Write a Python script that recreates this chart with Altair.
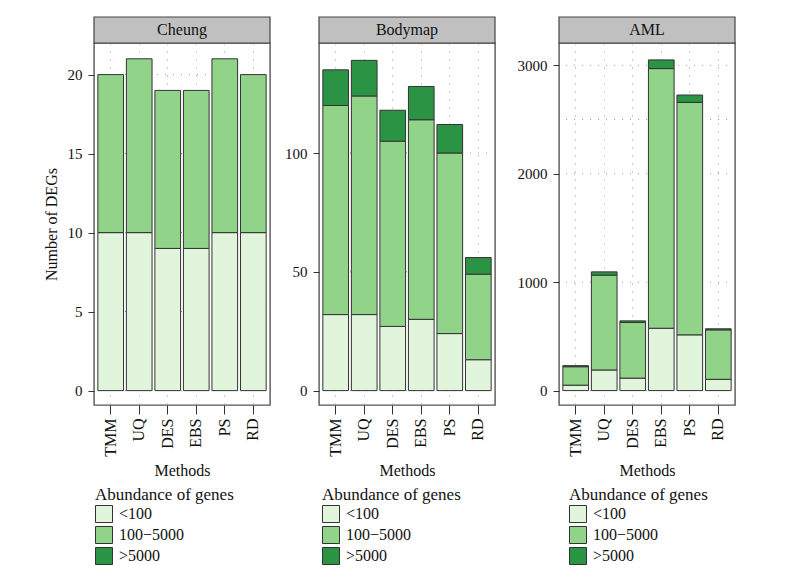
import altair as alt
import pandas as pd

methods = ["TMM", "UQ", "DES", "EBS", "PS", "RD"]
groups = ["<100", "100\u22125000", ">5000"]
colors = ["#E1F4DC", "#91D489", "#2B9444"]

panel_names = ["Cheung", "Bodymap", "AML"]

cheung_low = [10, 10, 9, 9, 10, 10]
cheung_mid = [10, 11, 10, 10, 11, 10]
cheung_high = [0, 0, 0, 0, 0, 0]

bodymap_low = [32, 32, 27, 30, 24, 13]
bodymap_mid = [88, 92, 78, 84, 76, 36]
bodymap_high = [15, 15, 13, 14, 12, 7]

aml_low = [50, 190, 115, 575, 514, 104]
aml_mid = [170, 875, 513, 2395, 2144, 456]
aml_high = [10, 30, 15, 80, 68, 10]

cheung_ticks = [0, 5, 10, 15, 20]
bodymap_ticks = [0, 50, 100]
aml_ticks = [0, 1000, 2000, 3000]

cheung_grid = [0, 5, 10, 15, 20]
bodymap_grid = [0, 50, 100]
aml_grid = [0, 1000, 2000, 2500, 3000]

cheung_domain = [-0.91, 22.0]
bodymap_domain = [-6.06, 146.3]
aml_domain = [-133, 3206]

FONT = "Liberation Serif"
W = 176
H = 362


def panel(name, low, mid, high, ticks, grid, domain, ytitle, ext, legend_x):
    rows = []
    for i, m in enumerate(methods):
        for gi, (g, vals) in enumerate(zip(groups, [low, mid, high])):
            if vals[i] > 0:
                rows.append({"method": m, "group": g, "gi": gi, "value": vals[i]})
    df = pd.DataFrame(rows)

    yaxis_kwargs = dict(
        values=ticks, format="d", grid=False, domain=False, tickSize=6,
        tickColor="#333333", labelFont=FONT, labelFontSize=15,
        labelColor="#111111", labelPadding=6,
        titleFont=FONT, titleFontSize=16, titleFontWeight="normal",
        titleColor="#111111", titlePadding=8,
    )
    if ytitle:
        yaxis_kwargs["title"] = ytitle
    else:
        yaxis_kwargs["title"] = None
        yaxis_kwargs["minExtent"] = ext
        yaxis_kwargs["maxExtent"] = ext
    yaxis = alt.Axis(**yaxis_kwargs)
    yscale = alt.Scale(domain=domain, nice=False, zero=False)

    rules = alt.Chart(pd.DataFrame({"value": grid})).mark_rule(
        color="#9a9a9a", strokeDash=[1, 7], strokeWidth=1
    ).encode(y=alt.Y("value:Q", scale=yscale, axis=yaxis))

    bars = alt.Chart(df).mark_bar(stroke="#333333", strokeWidth=1).encode(
        x=alt.X(
            "method:N", sort=methods,
            scale=alt.Scale(paddingInner=0.1, paddingOuter=0.135),
            axis=alt.Axis(
                title="Methods", labelAngle=270, grid=True, gridDash=[1, 7],
                gridColor="#9a9a9a", bandPosition=0.5, domain=False,
                tickSize=9, tickColor="#333333", labelFont=FONT, labelFontSize=16,
                labelColor="#111111", labelPadding=4, titleFont=FONT,
                titleFontSize=16, titleFontWeight="normal", titleColor="#111111",
                titlePadding=6,
            ),
        ),
        y=alt.Y("value:Q", stack="zero", scale=yscale, axis=yaxis),
        color=alt.Color(
            "group:N", sort=groups,
            scale=alt.Scale(domain=groups, range=colors),
            legend=alt.Legend(
                title="Abundance of genes", orient="none", legendX=legend_x,
                legendY=444, direction="vertical", symbolType="square",
                symbolSize=289, symbolStrokeColor="#333333", symbolStrokeWidth=1,
                titleFont=FONT, titleFontSize=17, titleFontWeight="normal",
                titleColor="#111111", titlePadding=1, labelFont=FONT,
                labelFontSize=16, labelColor="#111111", labelOffset=6,
                rowPadding=-1, padding=0,
            ),
        ),
        order=alt.Order("gi:Q"),
    )

    sdf = pd.DataFrame({"name": [name]})
    strip = alt.Chart(sdf).mark_rect(
        fill="#C0C0C0", stroke="#444444", strokeWidth=1.2
    ).encode(
        x=alt.value(0), x2=alt.value(W), y=alt.value(-26), y2=alt.value(0)
    )
    strip_text = alt.Chart(sdf).mark_text(
        font=FONT, fontSize=16, color="#111111", baseline="middle", align="center"
    ).encode(text="name:N", x=alt.value(W / 2), y=alt.value(-13))

    return alt.layer(rules, bars, strip, strip_text).properties(width=W, height=H)


p1 = panel("Cheung", cheung_low, cheung_mid, cheung_high, cheung_ticks,
           cheung_grid, cheung_domain, "Number of DEGs", 0, 1)
p2 = panel("Bodymap", bodymap_low, bodymap_mid, bodymap_high, bodymap_ticks,
           bodymap_grid, bodymap_domain, "", 46, 3)
p3 = panel("AML", aml_low, aml_mid, aml_high, aml_ticks,
           aml_grid, aml_domain, "", 61, 10)

chart = alt.hconcat(p1, p2, p3, spacing=0).resolve_scale(
    color="independent", y="independent"
).resolve_legend(color="independent").properties(
    padding={"left": 34, "top": 7, "right": 5, "bottom": 5},
    background="white",
).configure_view(stroke="#555555", strokeWidth=1.4)

chart.save("out.html", embed_options={"renderer": "svg", "actions": False})
